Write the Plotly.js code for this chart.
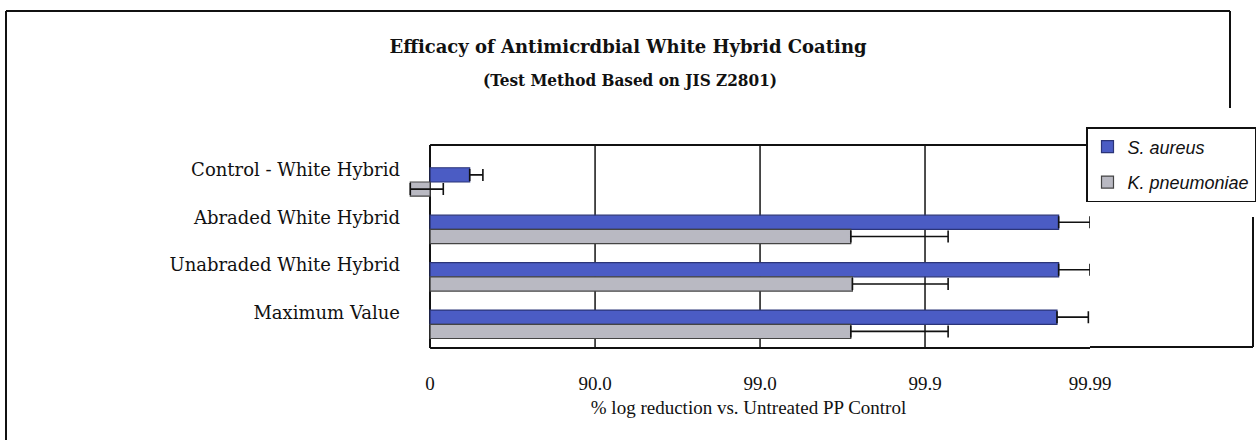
<!DOCTYPE html>
<html>
<head>
<meta charset="utf-8">
<script src="https://cdn.plot.ly/plotly-3.0.1.min.js"></script>
<style>
  html, body { margin: 0; padding: 0; background: #ffffff; }
  #chart { width: 1256px; height: 440px; }
</style>
</head>
<body>
<div id="chart"></div>
<script>
// ---- data (log reduction: 0 → 0, 1 → 90.0 %, 2 → 99.0 %, 3 → 99.9 %, 4 → 99.99 %) ----
const categories = ["Control - White Hybrid", "Abraded White Hybrid", "Unabraded White Hybrid", "Maximum Value"];
const seriesNames = ["S. aureus", "K. pneumoniae"];
const aureusValues = [0.24, 3.81, 3.81, 3.80];
const aureusErrors = [0.08, 0.19, 0.19, 0.19];
const pneumoniaeValues = [-0.12, 2.55, 2.56, 2.55];
const pneumoniaeErrors = [0.20, 0.59, 0.58, 0.59];
const tickValues = [0, 1, 2, 3, 4];
const tickLabels = ["0", "90.0", "99.0", "99.9", "99.99"];
const titleLine1 = "Efficacy of Antimicrdbial White Hybrid Coating";
const titleLine2 = "(Test Method Based on JIS Z2801)";
const xTitle = "% log reduction vs. Untreated PP Control";

// ---- layout geometry ----
const W = 1256, H = 440;
const M = { l: 407, r: 166, t: 145, b: 92 };
const PW = W - M.l - M.r, PH = H - M.t - M.b;
const px = x => (x - M.l) / PW;          // page pixel -> paper x
const py = y => (H - M.b - y) / PH;      // page pixel -> paper y

const traces = [
  {
    type: "bar", orientation: "h", name: seriesNames[0], legendgroup: "a",
    y: categories, x: aureusValues,
    marker: { color: "#4b5cc4", line: { color: "#2b3478", width: 1.2 } },
    error_x: { type: "data", symmetric: false, array: aureusErrors,
               arrayminus: aureusValues.map(() => 0),
               color: "#111111", thickness: 1.6, width: 6 }
  },
  {
    type: "bar", orientation: "h", name: seriesNames[1], legendgroup: "b",
    y: categories, x: pneumoniaeValues,
    marker: { color: "#b9b9c2", line: { color: "#444444", width: 1.2 } },
    error_x: { type: "data", symmetric: false, array: pneumoniaeErrors,
               arrayminus: pneumoniaeValues.map(() => 0),
               color: "#111111", thickness: 1.6, width: 6 }
  }
];

const lineStyle = { color: "#111111", width: 2 };
const shapes = [];
// internal vertical grid lines at the inner tick values
tickValues.slice(1, -1).forEach(v => {
  shapes.push({ type: "line", xref: "x", yref: "paper", x0: v, x1: v, y0: 0, y1: 1,
                line: { color: "#222222", width: 1.6 }, layer: "below" });
});
// plot frame: top and bottom edges from zero to the last tick
shapes.push({ type: "line", xref: "x", yref: "paper", x0: tickValues[0], x1: tickValues[tickValues.length - 1],
              y0: 1, y1: 1, line: lineStyle });
shapes.push({ type: "line", xref: "x", yref: "paper", x0: tickValues[0], x1: tickValues[tickValues.length - 1],
              y0: 0, y1: 0, line: lineStyle });
// outer page frame pieces
shapes.push({ type: "line", xref: "paper", yref: "paper", x0: px(6), x1: px(6), y0: py(11), y1: py(440), line: lineStyle });
shapes.push({ type: "line", xref: "paper", yref: "paper", x0: px(6), x1: px(1230), y0: py(11), y1: py(11), line: lineStyle });
shapes.push({ type: "line", xref: "paper", yref: "paper", x0: px(1230), x1: px(1230), y0: py(11), y1: py(108), line: lineStyle });
shapes.push({ type: "line", xref: "paper", yref: "paper", x0: px(1253), x1: px(1253), y0: py(217), y1: py(347), line: lineStyle });
shapes.push({ type: "line", xref: "paper", yref: "paper", x0: px(1090), x1: px(1253), y0: py(347), y1: py(347), line: lineStyle });

const layout = {
  width: W, height: H,
  margin: { l: M.l, r: M.r, t: M.t, b: M.b, autoexpand: false },
  paper_bgcolor: "#ffffff", plot_bgcolor: "#ffffff",
  barmode: "group", bargap: 0.40, bargroupgap: 0.0,
  showlegend: true,
  title: {
    text: "<b>" + titleLine1 + "</b>", x: 0.5, xref: "container", xanchor: "center",
    y: 1 - 47 / H, yref: "container", yanchor: "middle",
    font: { family: "DejaVu Serif", size: 18, color: "#111111" }
  },
  annotations: [
    { text: "<b>" + titleLine2 + "</b>", xref: "paper", yref: "paper", x: px(630), y: py(80),
      xanchor: "center", yanchor: "middle", showarrow: false,
      font: { family: "DejaVu Serif Condensed", size: 17, color: "#111111" } }
  ],
  xaxis: {
    range: [-0.14, 4.0], tickmode: "array", tickvals: tickValues, ticktext: tickLabels,
    showgrid: false, zeroline: true, zerolinecolor: "#111111", zerolinewidth: 2,
    showline: false, ticks: "", ticklabelstandoff: 22,
    tickfont: { family: "Liberation Serif", size: 19, color: "#111111" },
    title: { text: xTitle, standoff: 7,
             font: { family: "Liberation Serif", size: 19, color: "#111111" } },
    fixedrange: true
  },
  yaxis: {
    type: "category", range: [3.5, -0.78],
    showgrid: false, zeroline: false, showline: false, ticks: "",
    ticklabelshift: 12, ticklabelstandoff: 6,
    tickfont: { family: "DejaVu Serif", size: 18, color: "#111111" },
    fixedrange: true
  },
  legend: {
    x: px(1086), xanchor: "left", y: py(127), yanchor: "top",
    bgcolor: "#ffffff", bordercolor: "#111111", borderwidth: 1.5,
    font: { family: "Liberation Sans", size: 18, color: "#111111", style: "italic" },
    itemwidth: 30, traceorder: "grouped", tracegroupgap: 9
  },
  shapes: shapes
};

Plotly.newPlot("chart", traces, layout, { staticPlot: true, displayModeBar: false });
</script>
</body>
</html>
